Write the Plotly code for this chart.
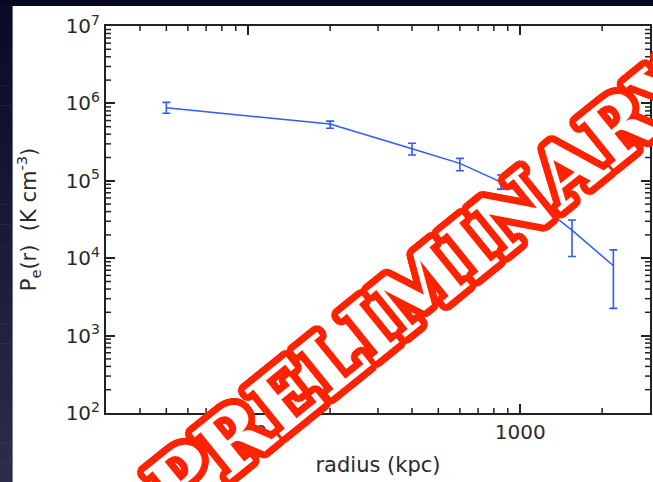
import math
import plotly.graph_objects as go

# Electron pressure profile: radius (kpc) vs P_e (K cm^-3)
radius_kpc = [50, 200, 400, 600, 850, 1150, 1550, 2200]
pressure = [8.8e5, 5.4e5, 2.6e5, 1.68e5, 9.6e4, 5.2e4, 2.3e4, 8.0e3]
pressure_hi = [1.03e6, 5.9e5, 3.05e5, 1.95e5, 1.19e5, 6.7e4, 3.12e4, 1.28e4]
pressure_lo = [7.45e5, 4.77e5, 2.15e5, 1.35e5, 7.8e4, 3.87e4, 1.05e4, 2.25e3]

x_ticks = [100, 1000]
x_ticktext = ["100", "1000"]
x_minor = [40, 50, 60, 70, 80, 90, 200, 300, 400, 500, 600, 700, 800, 900, 2000]
y_exponents = [2, 3, 4, 5, 6, 7]
y_ticks = [10 ** e for e in y_exponents]
y_ticktext = ["10<sup>%d</sup>" % e for e in y_exponents]
y_minor = [k * 10 ** n for n in range(2, 7) for k in range(2, 10)]
watermark = "PRELIMINARY"

W, H = 653, 482
L, R, T, B = 106, 3, 26, 69
PW, PH = W - L - R, H - T - B
X_RANGE = [math.log10(30), math.log10(3000)]
Y_RANGE = [2, 7]
AXIS_COLOR = "#222222"
MINOR_LEN = 5


def px_to_paper_x(px):
    return (px - L) / PW


def px_to_paper_y(py):
    return (H - B - py) / PH


err_plus = [h - v for h, v in zip(pressure_hi, pressure)]
err_minus = [v - l for v, l in zip(pressure, pressure_lo)]

fig = go.Figure()
fig.add_trace(go.Scatter(
    x=radius_kpc, y=pressure, mode="lines",
    line=dict(color="#2f5bff", width=1.5),
    error_y=dict(type="data", symmetric=False, array=err_plus,
                 arrayminus=err_minus, color="#2f5bff",
                 thickness=1.6, width=4),
    showlegend=False,
))

# Dark slide border: thin top band plus a left strip with a vertical gradient
shapes = [dict(type="rect", xref="paper", yref="paper", layer="below",
               x0=px_to_paper_x(-2), x1=px_to_paper_x(W + 2),
               y0=px_to_paper_y(6), y1=px_to_paper_y(-2),
               fillcolor="#060820", line=dict(width=0))]
top_c = (10, 12, 38)
bot_c = (42, 44, 72)
n_bands = 24
for i in range(n_bands):
    t = i / (n_bands - 1)
    c = tuple(int(round(a + (b - a) * t)) for a, b in zip(top_c, bot_c))
    y0 = 6 + (H - 6) * i / n_bands
    y1 = 6 + (H - 6) * (i + 1) / n_bands + 0.5
    shapes.append(dict(type="rect", xref="paper", yref="paper", layer="below",
                       x0=px_to_paper_x(-2), x1=px_to_paper_x(12.6),
                       y0=px_to_paper_y(y1), y1=px_to_paper_y(y0),
                       fillcolor="rgb(%d,%d,%d)" % c, line=dict(width=0)))

# Minor tick marks on all four sides, placed in data units on the log axes
tick_line = dict(color=AXIS_COLOR, width=1.5)
fx = MINOR_LEN / PH
fy = MINOR_LEN / PW
for v in x_minor:
    shapes.append(dict(type="line", xref="x", yref="paper", x0=v, x1=v,
                       y0=0, y1=fx, line=tick_line, layer="above"))
    shapes.append(dict(type="line", xref="x", yref="paper", x0=v, x1=v,
                       y0=1 - fx, y1=1, line=tick_line, layer="above"))
for v in y_minor:
    shapes.append(dict(type="line", xref="paper", yref="y", x0=0, x1=fy,
                       y0=v, y1=v, line=tick_line, layer="above"))
    shapes.append(dict(type="line", xref="paper", yref="y", x0=1 - fy, x1=1,
                       y0=v, y1=v, line=tick_line, layer="above"))

# Red outline for the watermark built from stacked text shadows
red = "#ff2400"
offs = []
for r in [1.5, 3, 4.5, 6, 7]:
    for k in range(24):
        a = 2 * math.pi * k / 24
        offs.append("%.2fpx %.2fpx 0 %s" % (r * math.cos(a), r * math.sin(a), red))
shadow = ", ".join(offs)

annotations = [
    dict(text=watermark, xref="paper", yref="paper",
         x=px_to_paper_x(425), y=px_to_paper_y(284),
         xanchor="center", yanchor="middle", showarrow=False,
         textangle=-39,
         font=dict(family="DejaVu Serif", size=82, color="white",
                   weight="bold", shadow=shadow)),
]

axis_common = dict(
    showline=True, linecolor=AXIS_COLOR, linewidth=2, mirror="allticks",
    ticks="inside", ticklen=9, tickwidth=1.8, tickcolor=AXIS_COLOR,
    showgrid=False, zeroline=False, automargin=False,
    tickfont=dict(family="DejaVu Sans", size=20, color="#2a2a2a"),
)

fig.update_layout(
    width=W, height=H,
    margin=dict(l=L, r=R, t=T, b=B, pad=0, autoexpand=False),
    paper_bgcolor="white", plot_bgcolor="white",
    shapes=shapes, annotations=annotations,
    xaxis=dict(
        type="log", range=X_RANGE,
        tickmode="array", tickvals=x_ticks, ticktext=x_ticktext,
        title=dict(text="radius (kpc)", standoff=14,
                   font=dict(family="DejaVu Sans", size=21, color="#2a2a2a")),
        **axis_common,
    ),
    yaxis=dict(
        type="log", range=Y_RANGE,
        tickmode="array", tickvals=y_ticks, ticktext=y_ticktext,
        title=dict(text="P<sub>e</sub>(r)\u00a0 (K cm<sup>-3</sup>)", standoff=23,
                   font=dict(family="DejaVu Sans", size=21, color="#2a2a2a")),
        **axis_common,
    ),
)

fig.write_html("out.html")
